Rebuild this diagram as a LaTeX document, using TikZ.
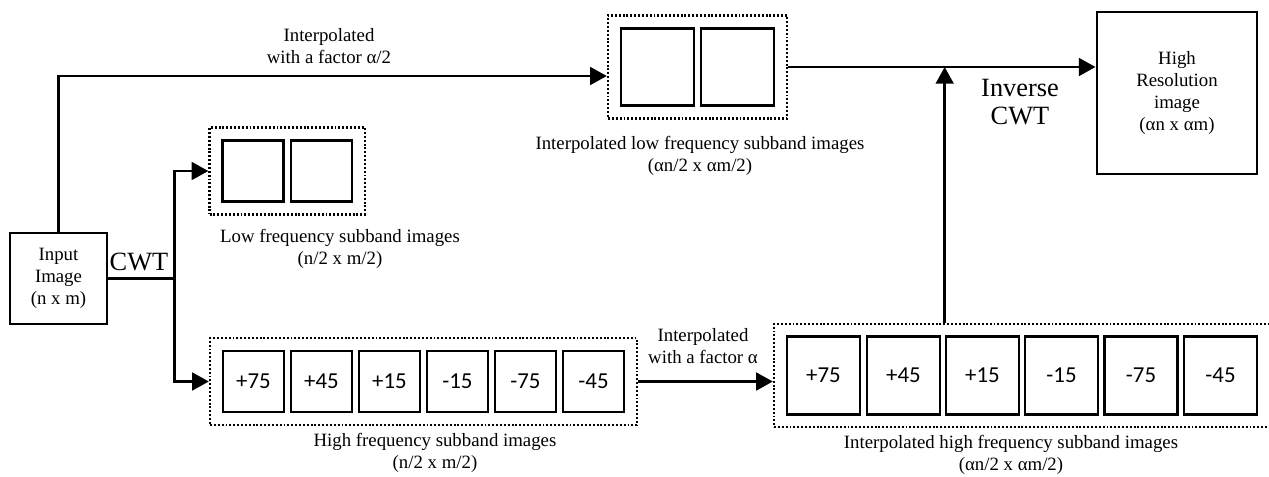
\documentclass[tikz,border=0pt]{standalone}
\usepackage{fontspec}
\setmainfont{Liberation Serif}
\newfontfamily\anglefont{Carlito}
\usetikzlibrary{arrows.meta,fit}

\tikzset{
  img/.style={draw,line width=1.5pt,minimum width=1.22cm,minimum height=1.22cm,inner sep=0pt,
    font=\anglefont\fontsize{13}{13}\selectfont},
  bigimg/.style={img,minimum width=1.46cm,minimum height=1.55cm},
  group/.style={draw,line width=1.4pt,dash pattern=on 1.1pt off 1.1pt,inner sep=6.6pt},
  block/.style={draw,line width=1.6pt,align=center,inner sep=0pt,font=\fontsize{10.7}{12.5}\selectfont},
  lbl/.style={align=center,font=\fontsize{10.7}{12.5}\selectfont},
  op/.style={align=center,font=\fontsize{15}{15.5}\selectfont},
  flow/.style={line width=1.7pt,-{Triangle[length=9.5pt,width=10pt]}}
}

\begin{document}
\begin{tikzpicture}[x=0.02cm,y=-0.02cm]
        \useasboundingbox (0,0) rectangle (1269,477);

        \node[block,minimum width=1.94cm,minimum height=1.82cm] (in) at (58.5,278.5) {Input\\Image\\(n x m)};
        \node[block,minimum width=3.2cm,minimum height=3.24cm] (hr) at (1177,93) {High\\Resolution\\image\\(αn x αm)};

        % subband images
        \begin{scope}[every node/.style={img}]
          \node (l1) at (253,171)   {};
          \node (l2) at (321.5,171) {};
          \node (h1) at (253.5,381.5) {+75};
          \node (h2) at (321.5,381.5) {+45};
          \node (h3) at (389.5,381.5) {+15};
          \node (h4) at (457.5,381.5) {-15};
          \node (h5) at (525.5,381.5) {-75};
          \node (h6) at (593.5,381.5) {-45};
        \end{scope}

        % interpolated subband images
        \begin{scope}[every node/.style={bigimg}]
          \node (il1) at (657.5,67) {};
          \node (il2) at (737.5,67) {};
          \node (ih1) at (823.5,375.5)  {+75};
          \node (ih2) at (903.5,375.5)  {+45};
          \node (ih3) at (982.5,375.5)  {+15};
          \node (ih4) at (1061.5,375.5) {-15};
          \node (ih5) at (1141,375.5)   {-75};
          \node (ih6) at (1220.5,375.5) {-45};
        \end{scope}

        \node[group,fit=(l1)(l2)] (low) {};
        \node[group,fit=(h1)(h6)] (high) {};
        \node[group,fit=(il1)(il2)] (ilow) {};
        \node[group,fit=(ih1)(ih6)] (ihigh) {};

        \begin{scope}[every node/.style={lbl}]
          \node (lowcap)   at (340,249)  {Low frequency subband images\\(n/2 x m/2)};
          \node (highcap)  at (435,453)  {High frequency subband images\\(n/2 x m/2)};
          \node (ilowcap)  at (700,156)  {Interpolated low frequency subband images\\(αn/2 x αm/2)};
          \node (ihighcap) at (1011,455) {Interpolated high frequency subband images\\(αn/2 x αm/2)};
          \node (interp1)  at (329,46)   {Interpolated\\with a factor  α/2};
          \node (interp2)  at (703,346)  {Interpolated\\with a factor α};
        \end{scope}

        \node[op] (cwt) at (139,262)  {CWT};
        \node[op] (icwt) at (1020,102) {Inverse\\CWT};

        \draw[flow] (in.north) |- ([yshift=-0.18cm]ilow.west);
        \draw[flow] (ilow.east) -- (ilow.east -| hr.west);
        \draw[line width=1.7pt] (in.east) -- ++(66,0) coordinate (split);
        \draw[flow] (split) |- (low.west);
        \draw[flow] (split) |- (high.west);
        \draw[flow] (high.east) -- (high.east -| ihigh.west);
        \draw[flow] (ih3.west |- ihigh.north) -- (ih3.west |- ilow.east);

\end{tikzpicture}
\end{document}
